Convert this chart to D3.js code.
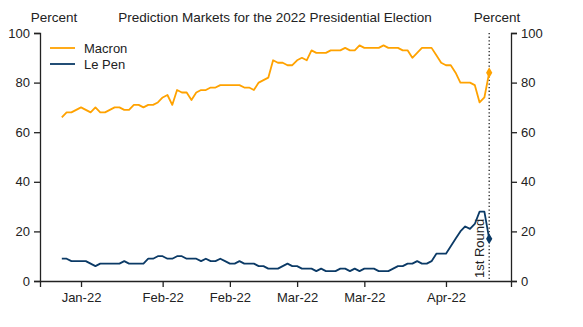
<!DOCTYPE html>
<html>
<head>
<meta charset="utf-8">
<script src="https://cdn.jsdelivr.net/npm/d3@7"></script>
<style>
  body { margin: 0; background: #fff; }
  svg { font-family: "Liberation Sans", Arial, sans-serif; }
</style>
</head>
<body>
<svg id="chart" width="583" height="327"></svg>
<script>
// daily readings, 11 Jan 2022 to 10 Apr 2022 (first round)
const startDate = Date.UTC(2022, 0, 11);
const roundDate = new Date(Date.UTC(2022, 3, 10));
const macron = [
  66, 68, 68, 69, 70, 69, 68, 70, 68, 68,
  69, 70, 70, 69, 69, 71, 71, 70, 71, 71,
  72, 74, 75, 71, 77, 76, 76, 73, 76, 77,
  77, 78, 78, 79, 79, 79, 79, 79, 78, 78,
  77, 80, 81, 82, 89, 88, 88, 87, 87, 89,
  90, 89, 93, 92, 92, 92, 93, 93, 93, 94,
  93, 93, 95, 94, 94, 94, 94, 95, 94, 94,
  94, 93, 93, 90, 92, 94, 94, 94, 91, 88,
  87, 87, 84, 80, 80, 80, 79, 72, 74, 84
];
const lePen = [
  9, 9, 8, 8, 8, 8, 7, 6, 7, 7,
  7, 7, 7, 8, 7, 7, 7, 7, 9, 9,
  10, 10, 9, 9, 10, 10, 9, 9, 9, 8,
  9, 8, 8, 9, 8, 7, 7, 8, 7, 7,
  7, 6, 6, 5, 5, 5, 6, 7, 6, 6,
  5, 5, 5, 4, 5, 4, 4, 4, 5, 5,
  4, 5, 4, 5, 5, 5, 4, 4, 4, 5,
  6, 6, 7, 7, 8, 7, 7, 8, 11, 11,
  11, 14, 17, 20, 22, 21, 23, 28, 28, 17
];
const tickDates = [
  new Date(Date.UTC(2022, 0, 15)), new Date(Date.UTC(2022, 1, 1)),
  new Date(Date.UTC(2022, 1, 15)), new Date(Date.UTC(2022, 2, 1)),
  new Date(Date.UTC(2022, 2, 15)), new Date(Date.UTC(2022, 3, 1))
];
const yTicks = [0, 20, 40, 60, 80, 100];

const series = [
  { name: "Macron", values: macron, color: "#FFA200" },
  { name: "Le Pen", values: lePen, color: "#0B3A66" }
];

const svg = d3.select("#chart");
const plotLeft = 40, plotRight = 511, plotTop = 33, plotBottom = 281;
const dates = macron.map((_, i) => new Date(startDate + i * 864e5));

const x = d3.scaleUtc()
  .domain([new Date(Date.UTC(2022, 0, 6, 11)), new Date(Date.UTC(2022, 3, 14, 13))])
  .range([plotLeft, plotRight]);
const y = d3.scaleLinear().domain([0, 100]).range([plotBottom, plotTop]);

const fmt = d3.utcFormat("%b-%y");

const styleAxis = g => {
  g.select(".domain").attr("stroke", "#222").attr("stroke-width", 1.3);
  g.selectAll(".tick line").attr("stroke", "#222").attr("stroke-width", 1.3);
  g.selectAll(".tick text").attr("fill", "#222").style("font-size", "13px");
};

svg.append("g")
  .attr("transform", `translate(0,${plotBottom})`)
  .call(d3.axisBottom(x).tickValues(tickDates).tickFormat(fmt).tickSizeOuter(0).tickSize(6).tickPadding(6))
  .call(styleAxis);

svg.append("g")
  .attr("transform", `translate(${plotLeft},0)`)
  .call(d3.axisLeft(y).tickValues(yTicks).tickSizeOuter(0).tickSize(6).tickPadding(4))
  .call(styleAxis);

svg.append("g")
  .attr("transform", `translate(${plotRight},0)`)
  .call(d3.axisRight(y).tickValues(yTicks).tickSizeOuter(0).tickSize(6).tickPadding(4))
  .call(styleAxis);

// first round marker line
svg.append("line")
  .attr("x1", x(roundDate)).attr("x2", x(roundDate))
  .attr("y1", y(100)).attr("y2", plotBottom)
  .attr("stroke", "#222").attr("stroke-width", 1.3)
  .attr("stroke-dasharray", "1.3,2.3");

svg.append("text")
  .attr("transform", `translate(${x(roundDate) - 5},${plotBottom - 3}) rotate(-90)`)
  .attr("fill", "#222")
  .style("font-size", "13px")
  .text("1st Round");

const line = d3.line()
  .x((d, i) => x(dates[i]))
  .y(d => y(d));

series.forEach(s => {
  svg.append("path")
    .datum(s.values)
    .attr("fill", "none")
    .attr("stroke", s.color)
    .attr("stroke-width", 1.8)
    .attr("stroke-linejoin", "round")
    .attr("d", line);

  const last = s.values[s.values.length - 1];
  svg.append("path")
    .attr("transform", `translate(${x(roundDate)},${y(last)})`)
    .attr("d", d3.symbol(d3.symbolDiamond, 34)())
    .attr("fill", s.color);
});

// legend
const legend = svg.append("g").attr("transform", "translate(50,48)");
series.forEach((s, i) => {
  const g = legend.append("g").attr("transform", `translate(0,${i * 16})`);
  g.append("line").attr("x1", 0).attr("x2", 25).attr("stroke", s.color).attr("stroke-width", 1.8);
  g.append("text").attr("x", 34).attr("dy", "0.35em")
    .attr("fill", "#222").style("font-size", "13px").text(s.name);
});

// titles
svg.append("text").attr("x", 275).attr("y", 22).attr("text-anchor", "middle")
  .attr("fill", "#222").style("font-size", "13.5px")
  .text("Prediction Markets for the 2022 Presidential Election");
svg.append("text").attr("x", 54).attr("y", 22).attr("text-anchor", "middle")
  .attr("fill", "#222").style("font-size", "13.5px").text("Percent");
svg.append("text").attr("x", 497).attr("y", 22).attr("text-anchor", "middle")
  .attr("fill", "#222").style("font-size", "13.5px").text("Percent");
</script>
</body>
</html>
